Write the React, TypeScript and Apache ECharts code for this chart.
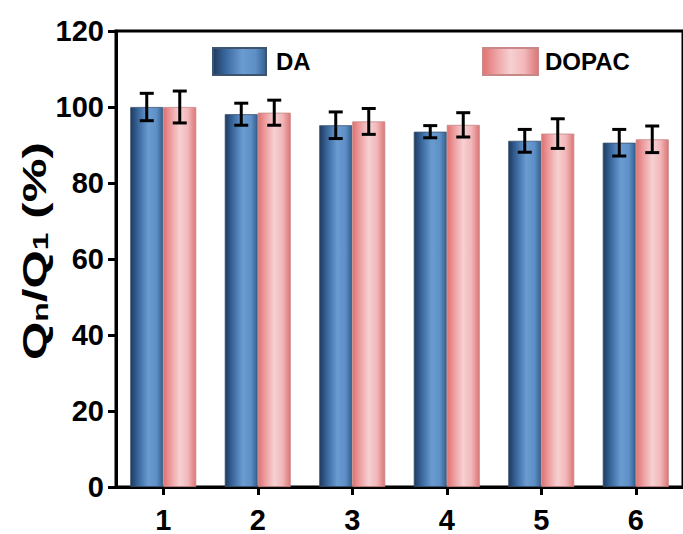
import React, { useEffect, useRef } from 'react';
import * as echarts from 'echarts';

const categories = ['1', '2', '3', '4', '5', '6'];
const daValues = [100.0, 98.1, 95.2, 93.5, 91.1, 90.6];
const daErrors = [3.6, 2.9, 3.5, 1.6, 3.0, 3.5];
const dopacValues = [100.0, 98.5, 96.2, 95.3, 93.0, 91.5];
const dopacErrors = [4.2, 3.3, 3.4, 3.2, 3.9, 3.5];
const yMin = 0;
const yMax = 120;
const yStep = 20;

const FONT = '"Liberation Sans", Arial, Helvetica, sans-serif';
const BAR_W = 33;

function errorSeries(name: string, values: number[], errors: number[], side: number) {
  return {
    type: 'custom',
    name,
    z: 10,
    silent: true,
    encode: { x: 0, y: [1, 2] },
    data: values.map((v, i) => [i, v - errors[i], v + errors[i]]),
    renderItem: (_params: any, api: any) => {
      const idx = api.value(0);
      const lo = api.coord([idx, api.value(1)]);
      const hi = api.coord([idx, api.value(2)]);
      const x = lo[0] + (side * BAR_W) / 2;
      const cap = 7;
      const style = { stroke: '#000', lineWidth: 3 };
      return {
        type: 'group',
        children: [
          { type: 'line', shape: { x1: x, y1: lo[1], x2: x, y2: hi[1] }, style },
          { type: 'line', shape: { x1: x - cap, y1: hi[1], x2: x + cap, y2: hi[1] }, style },
          { type: 'line', shape: { x1: x - cap, y1: lo[1], x2: x + cap, y2: lo[1] }, style },
        ],
      };
    },
  };
}

export default function App() {
  const ref = useRef<HTMLDivElement>(null);
  useEffect(() => {
    if (!ref.current) return;
    const chart = echarts.init(ref.current, undefined, { renderer: 'svg' });
    const daGrad = new echarts.graphic.LinearGradient(0, 0, 1, 0, [
      { offset: 0, color: '#1f3a5f' },
      { offset: 0.25, color: '#3b6aa0' },
      { offset: 0.55, color: '#6a9bd1' },
      { offset: 0.8, color: '#5e8fc6' },
      { offset: 1, color: '#34608f' },
    ]);
    const dopacGrad = new echarts.graphic.LinearGradient(0, 0, 1, 0, [
      { offset: 0, color: '#e07272' },
      { offset: 0.25, color: '#eea3a5' },
      { offset: 0.5, color: '#f7d0d2' },
      { offset: 0.75, color: '#f2b8ba' },
      { offset: 1, color: '#dc7676' },
    ]);
    const legendText = { fontFamily: FONT, fontWeight: 'bold', fontSize: 24, color: '#000' };
    chart.setOption({
      animation: false,
      backgroundColor: '#fff',
      grid: {
        left: 116,
        top: 31,
        width: 573,
        height: 461,
        show: true,
        borderColor: '#000',
        borderWidth: 3,
        containLabel: false,
      },
      legend: [
        {
          data: ['DA'],
          left: 212,
          top: 47,
          padding: 0,
          itemWidth: 53,
          itemHeight: 27,
          icon: 'rect',
          textStyle: { ...legendText, padding: [0, 0, 0, 5] },
        },
        {
          data: ['DOPAC'],
          left: 482,
          top: 47,
          padding: 0,
          itemWidth: 55,
          itemHeight: 27,
          icon: 'rect',
          textStyle: { ...legendText, padding: [0, 0, 0, 2] },
        },
      ],
      xAxis: {
        type: 'category',
        data: categories,
        axisLine: { show: true, lineStyle: { color: '#000', width: 3 } },
        axisTick: { show: true, alignWithLabel: true, length: 8, lineStyle: { color: '#000', width: 3 } },
        axisLabel: { fontFamily: FONT, fontWeight: 'bold', fontSize: 29, color: '#000', margin: 18 },
        splitLine: { show: false },
      },
      yAxis: {
        type: 'value',
        min: yMin,
        max: yMax,
        interval: yStep,
        axisLine: { show: true, lineStyle: { color: '#000', width: 3 } },
        axisTick: { show: true, length: 8, lineStyle: { color: '#000', width: 3 } },
        axisLabel: { fontFamily: FONT, fontWeight: 'bold', fontSize: 29, color: '#000', margin: 12 },
        splitLine: { show: false },
      },
      graphic: [
        {
          type: 'text',
          x: 34,
          y: 251,
          rotation: Math.PI / 2,
          scaleX: 1.45,
          style: {
            text: '{b|Q}{s|n}{b|/Q}{s|1}{b| (%)}',
            align: 'center',
            verticalAlign: 'middle',
            rich: {
              b: { fontFamily: FONT, fontWeight: 'bold', fontSize: 34, fill: '#000' },
              s: { fontFamily: FONT, fontWeight: 'bold', fontSize: 22, fill: '#000', verticalAlign: 'bottom', padding: [12, 0, 0, 0] },
            },
          },
        },
      ],
      series: [
        {
          name: 'DA',
          type: 'bar',
          data: daValues,
          barWidth: BAR_W,
          barGap: '0%',
          itemStyle: { color: daGrad, borderColor: '#3d5470', borderWidth: 0.8 },
        },
        {
          name: 'DOPAC',
          type: 'bar',
          data: dopacValues,
          barWidth: BAR_W,
          barGap: '0%',
          itemStyle: { color: dopacGrad, borderColor: '#c88888', borderWidth: 0.8 },
        },
        errorSeries('DA error', daValues, daErrors, -1),
        errorSeries('DOPAC error', dopacValues, dopacErrors, 1),
      ],
    });
    return () => chart.dispose();
  }, []);
  return (
    <div
      ref={ref}
      style={{ position: 'absolute', left: 0, top: 0, width: 683, height: 534, background: '#fff' }}
    />
  );
}
